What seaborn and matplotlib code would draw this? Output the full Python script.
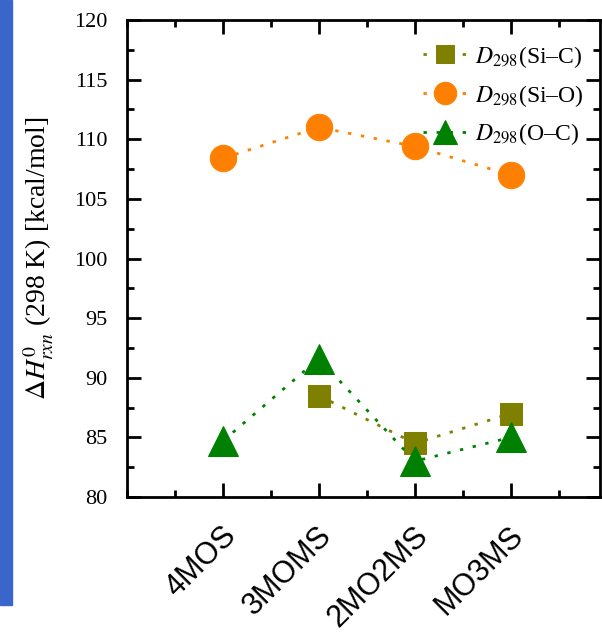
import numpy as np
import pandas as pd
import matplotlib
matplotlib.use("Agg")
import matplotlib.pyplot as plt
import matplotlib.transforms as mtransforms
from matplotlib.patches import Rectangle
from matplotlib.ticker import MultipleLocator
import seaborn as sns

# data
categories = ["4MOS", "3MOMS", "2MO2MS", "MO3MS"]
si_c_cats = ["3MOMS", "2MO2MS", "MO3MS"]
si_c = [88.5, 84.5, 87.0]
si_o_cats = ["4MOS", "3MOMS", "2MO2MS", "MO3MS"]
si_o = [108.4, 111.0, 109.4, 107.0]
o_c_cats = ["4MOS", "3MOMS", "2MO2MS", "MO3MS"]
o_c = [84.7, 91.6, 83.0, 85.0]

series = [
    (r"$D_{298}$(Si–C)", si_c_cats, si_c, "#808000", "s", 16),
    (r"$D_{298}$(Si–O)", si_o_cats, si_o, "#ff8000", "o", 19),
    (r"$D_{298}$(O–C)", o_c_cats, o_c, "#008000", "^", 21),
]

sns.set_style("ticks")
plt.rcParams["font.family"] = ["Liberation Serif", "DejaVu Serif"]
plt.rcParams["mathtext.fontset"] = "stix"
for k in ["axes.edgecolor", "xtick.color", "ytick.color", "text.color",
          "axes.labelcolor", "xtick.labelcolor", "ytick.labelcolor"]:
    plt.rcParams[k] = "black"

fig = plt.figure(figsize=(6.02, 6.34), dpi=100)
fig.patches.append(Rectangle((0, 1 - 605 / 634), 12 / 602, 605 / 634,
                             transform=fig.transFigure, color="#3a66cc", zorder=0))
ax = fig.add_axes([127 / 602, 1 - 497 / 634, 473 / 602, 477 / 634])

for label, cats, vals, col, mk, ms in series:
    df = pd.DataFrame({"x": [categories.index(c) + 1 for c in cats], "y": vals})
    sns.lineplot(data=df, x="x", y="y", ax=ax, color=col, marker=mk, markersize=ms,
                 markeredgecolor=col, linestyle=(0, (1.2, 3.5)), linewidth=2,
                 label=label)

ax.set_xlim(0, 4.93)
ax.set_ylim(80, 120)
ax.set_xticks(range(1, 5))
ax.set_xticklabels(categories, rotation=45, ha="right", rotation_mode="anchor",
                   family=["Liberation Sans"], fontsize=22)
ax.xaxis.set_minor_locator(MultipleLocator(0.5))
ax.yaxis.set_major_locator(MultipleLocator(5))
ax.yaxis.set_minor_locator(MultipleLocator(2.5))
ax.tick_params(axis="both", which="both", direction="in", top=True, right=True, width=2)
ax.tick_params(axis="both", which="major", length=10)
ax.tick_params(axis="both", which="minor", length=5)
ax.tick_params(axis="y", labelsize=16, pad=14)
ax.tick_params(axis="x", pad=10)
offset = mtransforms.ScaledTranslation(-2 / 100, -10 / 100, fig.dpi_scale_trans)
for lbl in ax.get_xticklabels():
    lbl.set_transform(lbl.get_transform() + offset)
for s in ax.spines.values():
    s.set_linewidth(2)
ax.set_xlabel("")
ax.set_ylabel(r"$\Delta H^{0}_{rxn}$ (298 K) [kcal/mol]", fontsize=20, labelpad=13)

ax.legend(loc="upper right", bbox_to_anchor=(1.0, 0.985), frameon=False, fontsize=17,
          handlelength=1.9, handletextpad=0.3, borderaxespad=0.3, labelspacing=0.55,
          markerscale=0.85)

fig.savefig("out.png", dpi=100)
